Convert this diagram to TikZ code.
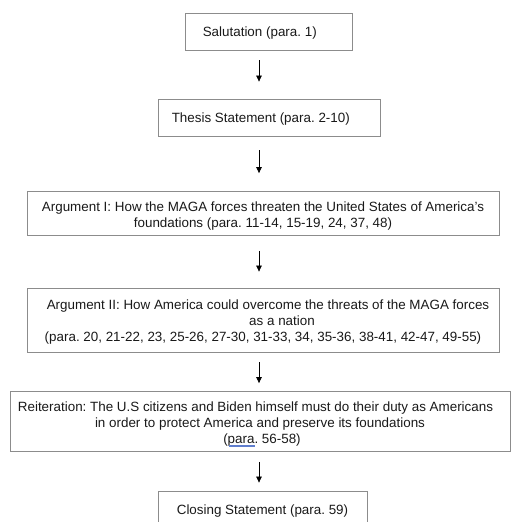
\documentclass[tikz,border=0pt]{standalone}
\usepackage{fontspec}
\setmainfont{Liberation Sans}
\usetikzlibrary{arrows.meta}
\definecolor{boxline}{RGB}{140,140,140}
\definecolor{spell}{RGB}{96,126,206}
\frenchspacing
\begin{document}
\begin{tikzpicture}[x=1pt,y=-1pt,
  frame/.style={draw=boxline, line width=0.8pt, rectangle, inner sep=0pt},
  txt/.style={inner sep=0pt, align=center, font=\fontsize{13.4}{16}\selectfont, text=black!90},
  arr/.style={draw=black, line width=0.7pt, -{Triangle[length=6pt,width=5.5pt]}}]
\useasboundingbox (0,0) rectangle (511,522);
\clip (0,0) rectangle (511,522);
\coordinate (axis) at (259,0);

% boxes
\node[frame, minimum width=167pt, minimum height=37pt] (s1) at (268.5,31.5) {};
\node[frame, minimum width=222pt, minimum height=37pt] (s2) at (269,117.5) {};
\node[frame, minimum width=472pt, minimum height=44pt] (s3) at (263,213.5) {};
\node[frame, minimum width=472pt, minimum height=64pt] (s4) at (263,320) {};
\node[frame, minimum width=500pt, minimum height=60pt] (s5) at (260,421.5) {};
\node[frame, minimum width=209pt, minimum height=37pt] (s6) at (262.5,509.5) {};

% texts
\node[txt, anchor=west] (t1) at ([xshift=18pt,yshift=-2pt]s1.west) {Salutation (para. 1)};
\node[txt, anchor=west] (t2) at ([xshift=14pt,yshift=-2pt]s2.west) {Thesis Statement (para. 2-10)};
\node[txt] (t3) at ([yshift=-2.5pt]s3.center)
  {Argument I: How the MAGA forces threaten the United States of America's\\foundations (para. 11-14, 15-19, 24, 37, 48)};
\node[txt] (t4) at ([yshift=-2.5pt]s4.center)
  {\hspace*{10pt}Argument II: How America could overcome the threats of the MAGA forces\\\hspace*{38pt}as a nation\\(para. 20, 21-22, 23, 25-26, 27-30, 31-33, 34, 35-36, 38-41, 42-47, 49-55)};
\node[txt] (t5) at ([yshift=-2.5pt]s5.center)
  {Reiteration: The U.S citizens and Biden himself must do their duty as Americans\hspace*{9pt}\\in order to protect America and preserve its foundations\\\hspace*{4pt}(para. 56-58)};
\node[txt] (t6) at ([yshift=-2pt]s6.center) {Closing Statement (para. 59)};

% spell-check underline
\draw[spell, line width=1.1pt] (229,446) -- (255,446);

% arrows
\draw[arr, shorten <=10pt, shorten >=17pt] (s1.south -| axis) -- (s2.north -| axis);
\draw[arr, shorten <=14pt, shorten >=18pt] (s2.south -| axis) -- (s3.north -| axis);
\draw[arr, shorten <=15pt, shorten >=16pt] (s3.south -| axis) -- (s4.north -| axis);
\draw[arr, shorten <=10pt, shorten >=8pt] (s4.south -| axis) -- (s5.north -| axis);
\draw[arr, shorten <=10pt, shorten >=8pt] (s5.south -| axis) -- (s6.north -| axis);
\end{tikzpicture}
\end{document}
